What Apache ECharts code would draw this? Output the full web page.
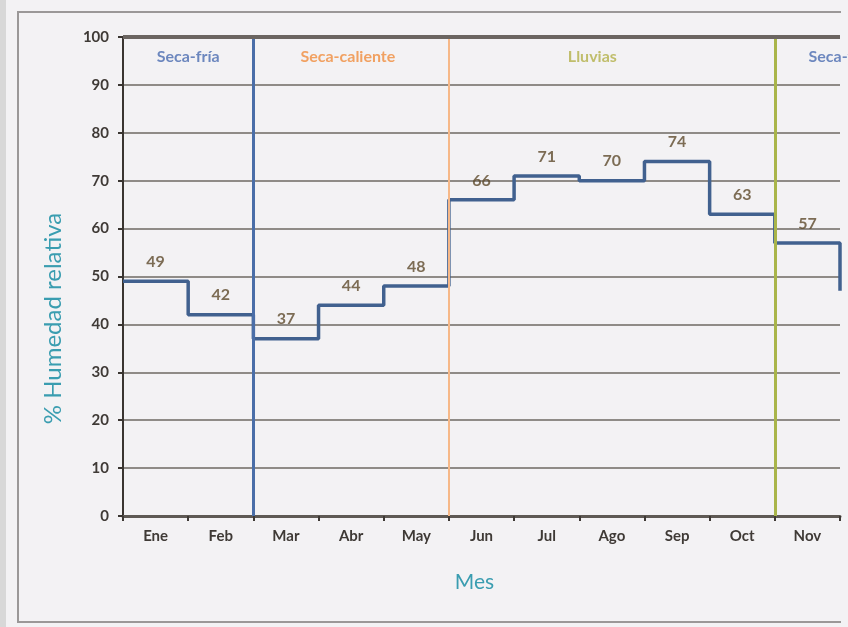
<!DOCTYPE html>
<html>
<head>
<meta charset="utf-8">
<script src="https://cdn.jsdelivr.net/npm/echarts@6/dist/echarts.min.js"></script>
<style>
html,body{margin:0;padding:0;background:#f3f2f4;}
#c{width:848px;height:627px;}
</style>
</head>
<body>
<div id="c"></div>
<script>
// ---- data ----
const months = ['Ene','Feb','Mar','Abr','May','Jun','Jul','Ago','Sep','Oct','Nov'];
const humidity = [49, 42, 37, 44, 48, 66, 71, 70, 74, 63, 57];
const nextMonthHumidity = 47; // Dic (cut off at the right edge)
const seasonNames = ['Seca-fría', 'Seca-caliente', 'Lluvias', 'Seca-fría'];
const seasonLabelAt = [1, 3.45, 7.2, 11];        // month units
const seasonBoundaries = [2, 5, 10];             // month units
const seasonTextColors = ['#4a6cb0', '#f08c3c', '#b3b048', '#4a6cb0'];
const boundaryColors = ['#4a6ea8', '#f6b888', '#a9b54a'];
const boundaryWidths = [3, 2, 3];
const yMin = 0, yMax = 100, yStep = 10;

const stepData = humidity.map((v, i) => [i, v]).concat([[months.length, nextMonthHumidity]]);

const FONT = 'Lato';
const chart = echarts.init(document.getElementById('c'), null, {renderer: 'canvas'});
chart.setOption({
  backgroundColor: '#f3f2f4',
  animation: false,
  textStyle: {fontFamily: FONT},
  graphic: [
    {type: 'rect', shape: {x: 0, y: 0, width: 6, height: 627}, style: {fill: '#d8d8d8'}, silent: true},
    {type: 'polyline', shape: {points: [[841, 12], [18, 12], [18, 622], [841, 622]]},
      style: {stroke: '#9b9898', lineWidth: 2, fill: null}, silent: true}
  ],
  grid: {left: 123, right: 8, top: 37, bottom: 111, containLabel: false},
  xAxis: [
    {
      type: 'category', data: months, boundaryGap: true,
      name: 'Mes', nameLocation: 'middle', nameGap: 56,
      nameTextStyle: {color: '#3a9db0', fontSize: 21, fontFamily: FONT, padding: [0, 14, 0, 0]},
      axisLine: {show: true, lineStyle: {color: '#5e5954', width: 3}},
      axisTick: {show: true, length: 5, lineStyle: {color: '#3e3935', width: 2}},
      axisLabel: {color: '#3f3a36', fontSize: 15, fontWeight: 'bold', margin: 13, fontFamily: FONT},
      splitLine: {show: false}
    },
    {type: 'value', min: 0, max: months.length, show: false}
  ],
  yAxis: {
    type: 'value', min: yMin, max: yMax, interval: yStep,
    name: '% Humedad relativa', nameLocation: 'middle', nameGap: 58, nameRotate: 90,
    nameTextStyle: {color: '#3a9db0', fontSize: 24, fontFamily: FONT, padding: [0, 84, 0, 0]},
    axisLine: {show: true, lineStyle: {color: '#3a3531', width: 2}},
    axisTick: {show: true, length: 5, lineStyle: {color: '#3a3531', width: 2}},
    axisLabel: {color: '#3f3a36', fontSize: 15, fontWeight: 'bold', margin: 14, fontFamily: FONT},
    splitLine: {show: true, lineStyle: {color: '#8f8b87', width: 2}}
  },
  series: [
    {
      name: 'boundaries', type: 'line', xAxisIndex: 1, data: stepData,
      symbol: 'none', lineStyle: {opacity: 0}, z: 1, silent: true,
      markLine: {
        silent: true, symbol: ['none', 'none'], label: {show: false},
        data: seasonBoundaries.map((x, i) => ({
          xAxis: x, lineStyle: {color: boundaryColors[i], width: boundaryWidths[i], type: 'solid'}
        })).concat([{yAxis: yMax, lineStyle: {color: '#6b6561', width: 4, type: 'solid'}}])
      }
    },
    {
      name: 'Humedad', type: 'line', xAxisIndex: 1, data: stepData, step: 'end',
      symbol: 'none', z: 3,
      lineStyle: {color: '#41618f', width: 3.5}
    },
    {
      name: 'labels', type: 'scatter', xAxisIndex: 0, data: humidity,
      symbolSize: 1, itemStyle: {color: 'rgba(0,0,0,0)'}, z: 4,
      label: {show: true, position: 'top', distance: 11, color: '#5e4a2c', fontSize: 16, fontWeight: 'bold', fontFamily: FONT}
    },
    {
      name: 'seasons', type: 'scatter', xAxisIndex: 1,
      data: seasonNames.map((n, i) => ({value: [seasonLabelAt[i], 95.8], name: n,
        label: {color: seasonTextColors[i]}})),
      symbolSize: 1, itemStyle: {color: 'rgba(0,0,0,0)'}, z: 4, clip: false,
      label: {show: true, position: 'inside', formatter: p => p.name, fontSize: 16, fontWeight: 'bold', fontFamily: FONT}
    }
  ]
});
</script>
</body>
</html>
